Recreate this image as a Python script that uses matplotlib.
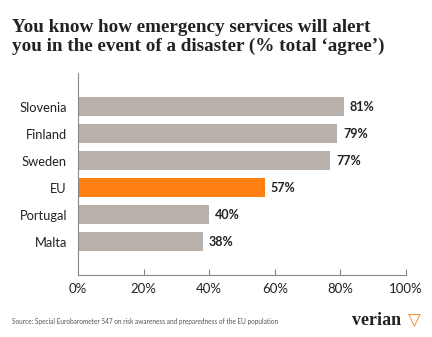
import matplotlib.pyplot as plt
import numpy as np

countries = ["Slovenia", "Finland", "Sweden", "EU", "Portugal", "Malta"]
agree = [81, 79, 77, 57, 40, 38]
highlight = "EU"
ticks = [0, 20, 40, 60, 80, 100]

grey = "#b8b0aa"
orange = "#ff7f11"
dark = "#222222"

fig = plt.figure(figsize=(4.32, 3.37), dpi=100)
ax = fig.add_axes([0.1806, 0.184, 0.759, 0.599])

y = np.arange(len(countries))
colors = [orange if c == highlight else grey for c in countries]
ax.barh(y, agree, height=0.7, color=colors)
for yi, v in zip(y, agree):
    ax.text(v + 1.8, yi, f"{v}%", va="center", ha="left", fontsize=9,
            fontweight="bold", family="Lato", color=dark)

ax.set_ylim(len(countries) - 1 + 1.24, -1.24)
ax.set_xlim(0, 100)
ax.set_yticks(y)
ax.set_yticklabels(countries, family="Lato", fontsize=9.3, color=dark)
ax.set_xticks(ticks)
ax.set_xticklabels([f"{t}%" for t in ticks], family="Lato", fontsize=9.5, color=dark)
ax.tick_params(axis="y", length=0, pad=8)
ax.tick_params(axis="x", direction="in", length=4, color="#888888", pad=6)
for s in ["top", "right"]:
    ax.spines[s].set_visible(False)
ax.spines["left"].set_color("#888888")
ax.spines["bottom"].set_color("#888888")

fig.text(0.028, 0.89, "You know how emergency services will alert\nyou in the event of a disaster (% total \u2018agree\u2019)",
         family="Liberation Serif", fontweight="bold", fontsize=13.8, color=dark,
         va="center", ha="left", linespacing=1.1)
fig.text(0.028, 0.045, "Source: Special Eurobarometer 547 on risk awareness and preparedness of the EU population",
         family="Lato", fontsize=4.7, color="#555555", va="center")
fig.text(0.815, 0.048, "verian", family="Liberation Serif", fontweight="bold",
         fontsize=13, color=dark, va="center")
fig.text(0.945, 0.048, "\u25bd", family="DejaVu Sans", fontsize=12, color=orange,
         va="center", ha="left")

fig.savefig("out.png", dpi=100)
